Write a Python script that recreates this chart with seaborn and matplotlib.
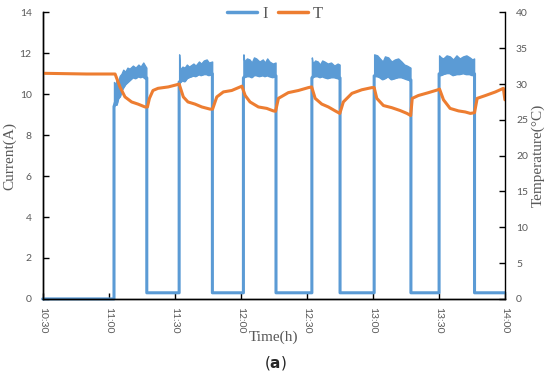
import matplotlib
matplotlib.use("Agg")
import matplotlib.pyplot as plt
from matplotlib.lines import Line2D
import seaborn as sns

# waktu dalam menit sejak 10:30
tick_minutes = [0, 30, 60, 90, 120, 150, 180, 210]
tick_labels = ["10:30", "11:00", "11:30", "12:00", "12:30", "13:00", "13:30", "14:00"]

# arus: fase nyala (menit) dan arus saat jeda
on_start = [32.4, 62.0, 91.2, 122.3, 150.6, 180.1]
on_end = [47.3, 77.1, 106.0, 135.1, 167.3, 196.2]
idle_current = 0.3

# pita noise arus tiap fase nyala (batas atas / bawah)
band_t = [
    [32.4, 33.0, 33.5, 34.2, 35.0, 35.8, 36.6, 37.5, 38.5, 39.5, 41.0, 42.2,
     43.5, 44.5, 45.7, 46.5, 47.1],
    [62.0, 62.4, 63.5, 64.5, 65.5, 66.5, 68.5, 69.5, 71.0, 72.0, 73.2, 74.5,
     75.5, 77.0],
    [91.2, 91.6, 92.8, 94.0, 95.0, 96.0, 97.0, 98.5, 100.0, 101.0, 102.0,
     103.0, 104.5, 105.8],
    [122.3, 122.7, 123.8, 125.0, 126.0, 127.0, 128.0, 129.5, 131.0, 132.5,
     134.0, 134.9],
    [150.6, 152.0, 153.2, 154.5, 155.5, 157.0, 158.5, 160.0, 161.5, 163.0,
     164.3, 165.5, 167.1],
    [180.1, 181.0, 182.0, 183.5, 185.0, 186.5, 188.0, 189.5, 191.0, 192.5,
     194.0, 195.2, 196.0],
]
band_hi = [
    [10.6, 10.4, 10.7, 10.6, 10.9, 11.0, 11.2, 11.1, 11.3, 11.25, 11.4, 11.3,
     11.45, 11.35, 11.55, 11.4, 11.3],
    [11.95, 11.2, 11.35, 11.3, 11.45, 11.35, 11.5, 11.4, 11.6, 11.5, 11.65,
     11.7, 11.55, 11.6],
    [11.95, 11.6, 11.75, 11.7, 11.55, 11.8, 11.75, 11.6, 11.7, 11.55, 11.75,
     11.6, 11.5, 11.55],
    [11.8, 11.5, 11.65, 11.6, 11.45, 11.65, 11.6, 11.5, 11.55, 11.4, 11.5,
     11.45],
    [11.95, 11.9, 11.75, 11.6, 11.85, 11.8, 11.6, 11.7, 11.75, 11.6, 11.45,
     11.4, 11.3],
    [11.9, 11.8, 11.75, 11.9, 11.85, 11.7, 11.9, 11.75, 11.85, 11.9, 11.8,
     11.7, 11.75],
]
band_lo = [
    [9.4, 9.6, 9.5, 9.8, 9.9, 10.2, 10.35, 10.5, 10.6, 10.7, 10.85, 10.8,
     10.9, 10.85, 10.9, 10.8, 10.8],
    [10.6, 10.6, 10.7, 10.65, 10.8, 10.85, 10.93, 10.9, 11.0, 10.95, 11.0,
     11.0, 10.95, 11.0],
    [10.8, 10.85, 10.9, 10.9, 10.85, 10.95, 10.95, 10.9, 10.95, 10.9, 10.95,
     10.9, 10.85, 10.9],
    [10.8, 10.85, 10.9, 10.9, 10.85, 10.9, 10.85, 10.8, 10.85, 10.85, 10.8,
     10.8],
    [10.9, 10.9, 10.85, 10.75, 10.8, 10.9, 10.75, 10.8, 10.85, 10.85, 10.8,
     10.75, 10.7],
    [11.0, 10.95, 11.0, 11.05, 11.05, 10.95, 11.0, 11.0, 11.05, 11.0, 11.0,
     10.95, 11.0],
]

# suhu
temp_t = [0, 10, 20, 32.9, 35.1, 37.4, 40.4, 43.3, 46.5, 47.6, 48.5, 50.1, 52.4,
          57.1, 60.9, 62.0, 63.9, 66.0, 69.2, 72.3, 76.0, 77.2, 79.1, 82.1, 85.9,
          90.5, 92.0, 94.2, 98.0, 101.8, 104.8, 105.8, 107.1, 111.6, 116.2, 120.7,
          122.2, 123.8, 126.8, 129.8, 132.9, 135.0, 136.6, 140.5, 145.0, 149.5,
          150.6, 151.8, 154.8, 158.6, 162.4, 165.5, 167.2, 167.9, 170.7, 175.3,
          179.6, 180.3, 182.1, 185.1, 188.9, 192.0, 194.3, 196.2, 197.4, 201.2,
          205.7, 209.3, 210.0]
temp_v = [31.5, 31.45, 31.4, 31.4, 29.6, 28.2, 27.5, 27.2, 26.8, 26.8, 28.0, 29.1, 29.4,
          29.6, 29.9, 30.0, 28.2, 27.5, 27.2, 26.8, 26.5, 26.5, 28.2, 28.9, 29.1,
          29.7, 28.4, 27.5, 26.8, 26.6, 26.25, 26.2, 28.0, 28.8, 29.1, 29.5,
          29.6, 28.0, 27.2, 26.8, 26.25, 25.9, 27.5, 28.7, 29.2, 29.5,
          29.5, 28.0, 27.0, 26.7, 26.3, 25.9, 25.6, 28.0, 28.4, 28.8,
          29.2, 29.3, 27.8, 26.6, 26.25, 26.1, 25.9, 26.0, 28.0, 28.4,
          28.9, 29.4, 27.8]

BLUE = "#5B9BD5"
ORANGE = "#ED7D31"
GREY = "#595959"

sns.set_style("ticks")
plt.rcParams["font.family"] = ["Lato", "DejaVu Sans"]

# susun jalur arus (kotak) dari fase nyala
cur_t, cur_v = [0.0], [0.0]
for k in range(len(on_start)):
    base = 0.0 if k == 0 else idle_current
    cur_t += [on_start[k]]
    cur_v += [base]
    cur_t += band_t[k]
    cur_v += band_lo[k]
    cur_t += [on_end[k], on_end[k]]
    cur_v += [band_lo[k][-1], idle_current]
cur_t.append(210.0)
cur_v.append(idle_current)

fig, ax = plt.subplots(figsize=(5.5, 3.76), dpi=100)
fig.subplots_adjust(left=0.0776, right=0.918, bottom=0.205, top=0.967)

sns.lineplot(x=cur_t, y=cur_v, ax=ax, color=BLUE, lw=2.2, estimator=None,
             sort=False, clip_on=False)
for t, hi, lo in zip(band_t, band_hi, band_lo):
    ax.fill_between(t, lo, hi, color=BLUE, lw=1)

ax2 = ax.twinx()
sns.lineplot(x=temp_t, y=temp_v, ax=ax2, color=ORANGE, lw=2.2, estimator=None,
             sort=False)

ax.set_xlim(0, 210)
ax.set_ylim(0, 14)
ax2.set_ylim(0, 40)
ax.set_xticks(tick_minutes)
ax.set_xticklabels(tick_labels, rotation=-90)
ax.set_yticks(range(0, 15, 2))
ax2.set_yticks(range(0, 41, 5))

for a in (ax, ax2):
    a.spines["top"].set_visible(False)
    for s in a.spines.values():
        s.set_color("black")
        s.set_linewidth(1)
    a.tick_params(direction="in", length=4, width=1, colors="black",
                  labelcolor=GREY, labelsize=7.5)
ax.spines["right"].set_visible(False)
ax.tick_params(axis="y", pad=8)
ax.tick_params(axis="x", pad=6)
ax2.tick_params(axis="y", pad=8)

serif = {"family": "Liberation Serif", "size": 11, "color": GREY}
ax.set_xlabel("Time(h)", fontdict=serif, labelpad=-2)
ax.set_ylabel("Current(A)", fontdict=serif, labelpad=2)
ax2.set_ylabel("Temperature(\u00b0C)", fontdict=serif, labelpad=2)

handles = [Line2D([], [], color=BLUE, lw=2.5), Line2D([], [], color=ORANGE, lw=2.5)]
fig.legend(handles, ["I", "T"], loc="center", bbox_to_anchor=(0.5, 0.962),
           ncol=2, frameon=False, handlelength=1.8, handletextpad=0.3,
           columnspacing=0.6, prop={"family": "Liberation Serif", "size": 12})
for txt in fig.legends[0].get_texts():
    txt.set_color(GREY)

fig.text(0.5, 1 - 363 / 376, r"($\mathbf{a}$)", ha="center", va="center",
         fontsize=11, family="DejaVu Sans")

fig.savefig("out.png", dpi=100)
